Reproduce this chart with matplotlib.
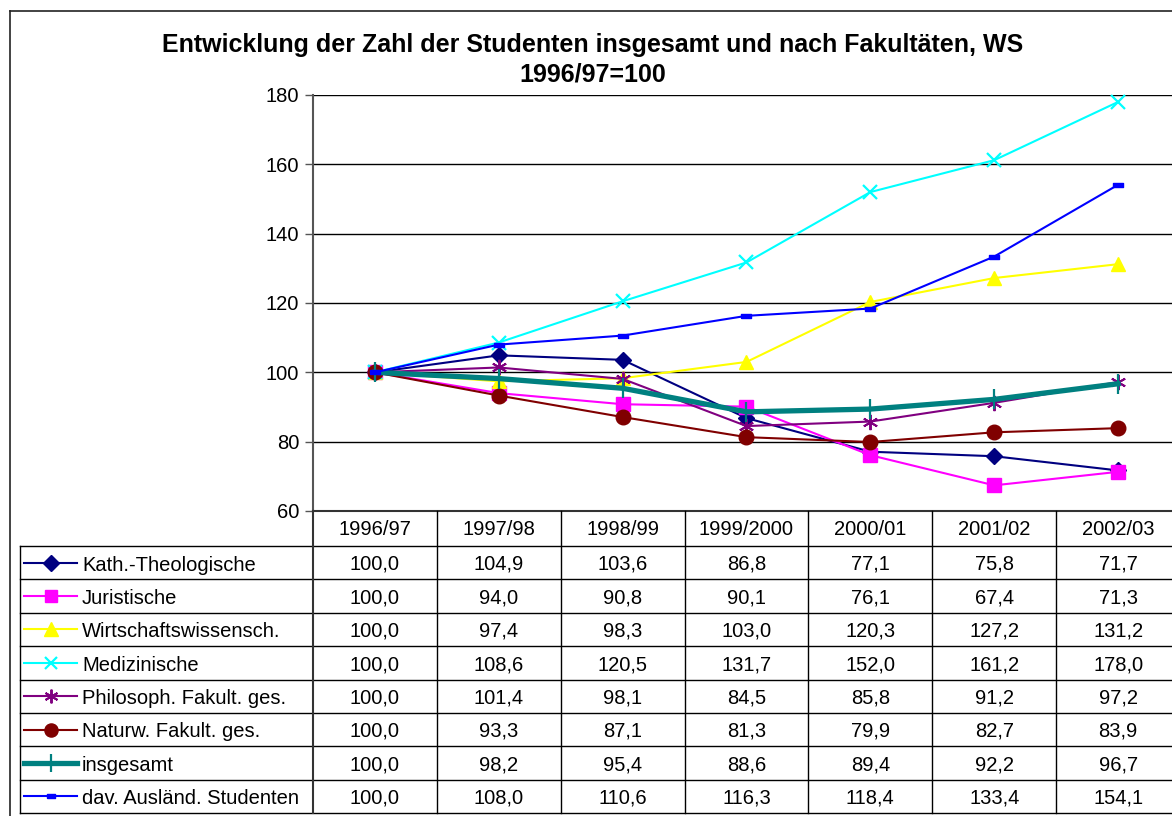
import matplotlib
matplotlib.use("Agg")
import matplotlib.pyplot as plt
from matplotlib.lines import Line2D

plt.rcParams['font.family'] = ['Liberation Sans', 'DejaVu Sans']

categories = ["1996/97", "1997/98", "1998/99", "1999/2000", "2000/01", "2001/02", "2002/03"]
series_names = ["Kath.-Theologische", "Juristische", "Wirtschaftswissensch.", "Medizinische",
                "Philosoph. Fakult. ges.", "Naturw. Fakult. ges.", "insgesamt",
                "dav. Ausländ. Studenten"]
kath = [100.0, 104.9, 103.6, 86.8, 77.1, 75.8, 71.7]
jur = [100.0, 94.0, 90.8, 90.1, 76.1, 67.4, 71.3]
wirt = [100.0, 97.4, 98.3, 103.0, 120.3, 127.2, 131.2]
med = [100.0, 108.6, 120.5, 131.7, 152.0, 161.2, 178.0]
phil = [100.0, 101.4, 98.1, 84.5, 85.8, 91.2, 97.2]
natur = [100.0, 93.3, 87.1, 81.3, 79.9, 82.7, 83.9]
gesamt = [100.0, 98.2, 95.4, 88.6, 89.4, 92.2, 96.7]
ausl = [100.0, 108.0, 110.6, 116.3, 118.4, 133.4, 154.1]
values = [kath, jur, wirt, med, phil, natur, gesamt, ausl]
yticks = [60, 80, 100, 120, 140, 160, 180]

dash = [(-1, -0.45), (1, -0.45), (1, 0.45), (-1, 0.45), (-1, -0.45)]
styles = [
    dict(color="#000080", marker="D", ms=8.5, lw=1.5),
    dict(color="#FF00FF", marker="s", ms=9.5, lw=1.5),
    dict(color="#FFFF00", marker="^", ms=10.5, lw=1.5),
    dict(color="#00FFFF", marker="x", ms=10, lw=1.5, mew=1.6),
    dict(color="#800080", marker=(6, 2, 0), ms=11, lw=1.5, mew=1.4),
    dict(color="#800000", marker="o", ms=10.5, lw=1.5),
    dict(color="#008080", marker="|", ms=14, lw=3.8, mew=1.6),
    dict(color="#0000FF", marker=dash, ms=7, lw=1.5),
]

W, H = 1172, 816
fig = plt.figure(figsize=(W / 100, H / 100), dpi=100)
fs = 14.5

def fx(px):
    return px / W

def fy(py):
    return 1 - py / H

# outer chart frame
fig.add_artist(Line2D([fx(10), fx(10)], [fy(11), fy(H + 5)], color="#222222", lw=1.2))
fig.add_artist(Line2D([fx(10), fx(W + 5)], [fy(11), fy(11)], color="#222222", lw=1.2))

# main plot
left_px, right_px, top_px, bot_px = 313, 1180, 95, 511
ax = fig.add_axes([fx(left_px), fy(bot_px), fx(right_px - left_px), (bot_px - top_px) / H])
x = list(range(len(categories)))
for name, vals, st in zip(series_names, values, styles):
    ax.plot(x, vals, color=st["color"], lw=st["lw"], marker=st["marker"], ms=st["ms"],
            mew=st.get("mew", 1.0), mfc=st["color"], mec=st["color"], clip_on=False,
            zorder=3)
ax.set_xlim(-0.5, len(categories) - 0.5)
ax.set_ylim(60, 180)
ax.set_yticks(yticks)
ax.set_yticklabels([str(v) for v in yticks], fontsize=fs)
ax.tick_params(axis="y", direction="out", length=6, width=1, color="#555555", pad=4)
ax.set_xticks([])
for v in yticks[1:]:
    ax.axhline(v, color="black", lw=1.0, zorder=1)
for s in ["top", "right", "bottom"]:
    ax.spines[s].set_visible(False)
ax.spines["left"].set_color("#555555")
ax.spines["left"].set_linewidth(1.5)

# data table
tleft_px = 20
unit = (right_px - left_px) / len(categories)
L = (left_px - tleft_px) / unit
hdr = 1.05
nrows = len(series_names)
tax = fig.add_axes([fx(tleft_px), fy(813), fx(right_px - tleft_px), (813 - bot_px) / H])
tax.set_xlim(-0.5 - L, len(categories) - 0.5)
tax.set_ylim(hdr + nrows, 0)
tax.axis("off")
xl = -0.5 - L
lc = "black"
tax.plot([-0.5, len(categories) - 0.5], [0, 0], color="#333333", lw=1.5, clip_on=False)
for r in range(nrows + 1):
    tax.plot([xl, len(categories) - 0.5], [hdr + r, hdr + r], color=lc, lw=1.0, clip_on=False)
tax.plot([xl, xl], [hdr, hdr + nrows], color=lc, lw=1.0, clip_on=False)
tax.plot([-0.5, -0.5], [0, hdr + nrows], color="#333333", lw=1.5, clip_on=False)
for c in range(1, len(categories)):
    tax.plot([c - 0.5, c - 0.5], [0, hdr + nrows], color=lc, lw=1.0, clip_on=False)
for c, cat in enumerate(categories):
    tax.text(c, hdr / 2 + 0.03, cat, ha="center", va="center", fontsize=fs)
for r, (name, vals, st) in enumerate(zip(series_names, values, styles)):
    yc = hdr + r + 0.5
    x0 = xl + 4 / unit
    x1 = xl + 57 / unit
    tax.plot([x0, x1], [yc, yc], color=st["color"], lw=st["lw"], clip_on=False)
    tax.plot([(x0 + x1) / 2], [yc], color=st["color"], marker=st["marker"],
             ms=st["ms"] * 0.9, mew=st.get("mew", 1.0), mfc=st["color"], mec=st["color"],
             clip_on=False)
    tax.text(xl + 62 / unit, yc + 0.07, name, ha="left", va="center", fontsize=fs)
    for c, v in enumerate(vals):
        tax.text(c, yc + 0.05, f"{v:.1f}".replace(".", ","), ha="center", va="center",
                 fontsize=fs)

# title
fig.text(fx(593), fy(45), "Entwicklung der Zahl der Studenten insgesamt und nach Fakultäten, WS",
         ha="center", va="center", fontsize=18, fontweight="bold")
fig.text(fx(593), fy(75), "1996/97=100", ha="center", va="center", fontsize=18,
         fontweight="bold")

fig.savefig("out.png", dpi=100)
